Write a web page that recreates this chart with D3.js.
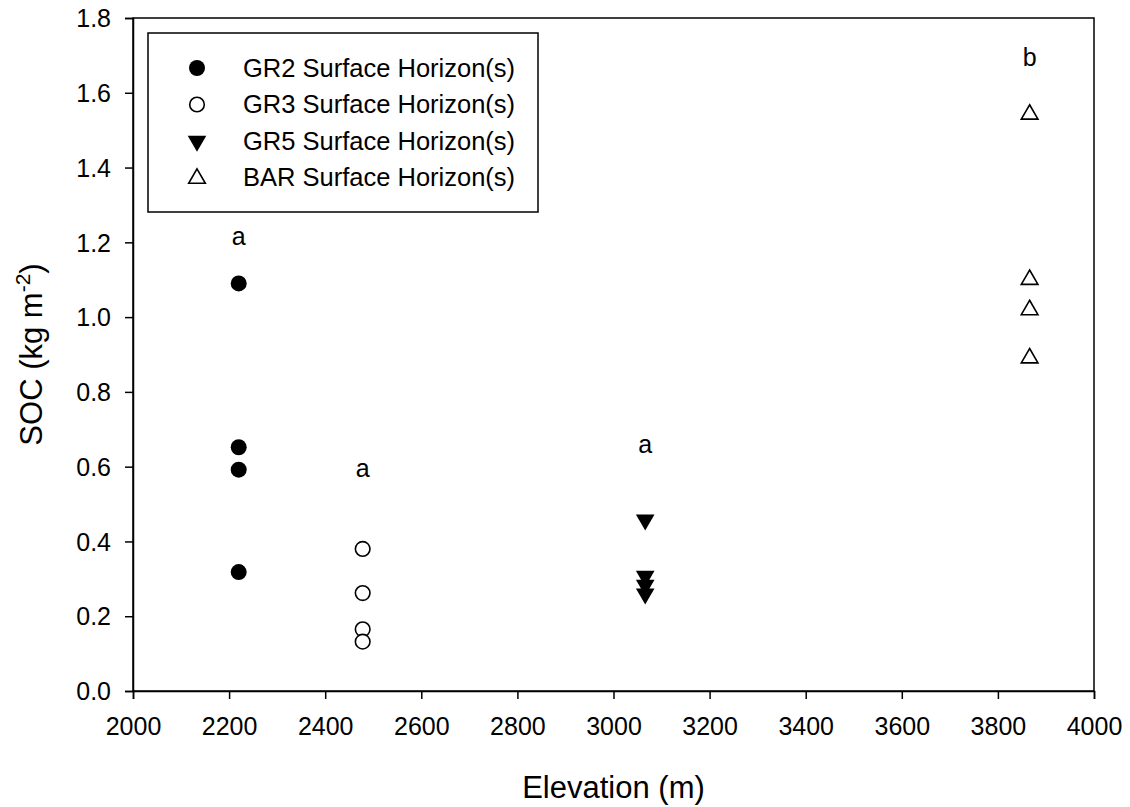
<!DOCTYPE html>
<html>
<head>
<meta charset="utf-8">
<script src="https://cdn.jsdelivr.net/npm/d3@7"></script>
<style>
  body { margin: 0; background: #fff; }
  svg text { font-family: "Liberation Sans", Arial, sans-serif; fill: #000; }
</style>
</head>
<body>
<svg id="chart" width="1130" height="807"></svg>
<script>
// data
const gr2Elev = [2220, 2220, 2220, 2220];
const gr2Soc = [1.09, 0.652, 0.592, 0.318];
const gr3Elev = [2478, 2478, 2478, 2478];
const gr3Soc = [0.38, 0.262, 0.165, 0.132];
const gr5Elev = [3066, 3066, 3066, 3066];
const gr5Soc = [0.458, 0.307, 0.283, 0.26];
const barElev = [3866, 3866, 3866, 3866];
const barSoc = [1.545, 1.103, 1.022, 0.893];

const letterElev = [2220, 2478, 3066, 3866];
const letterSoc = [1.215, 0.595, 0.66, 1.695];
const letterText = ["a", "a", "a", "b"];

const xTicks = [2000, 2200, 2400, 2600, 2800, 3000, 3200, 3400, 3600, 3800, 4000];
const yTicks = [0, 0.2, 0.4, 0.6, 0.8, 1.0, 1.2, 1.4, 1.6, 1.8];

const seriesNames = ["GR2 Surface Horizon(s)", "GR3 Surface Horizon(s)", "GR5 Surface Horizon(s)", "BAR Surface Horizon(s)"];

const svg = d3.select("#chart");
const margin = { left: 133, right: 36, top: 18, bottom: 116 };
const W = 1130, H = 807;

const x = d3.scaleLinear().domain([2000, 4000]).range([margin.left, W - margin.right]);
const y = d3.scaleLinear().domain([0, 1.8]).range([H - margin.bottom, margin.top]);

// plot frame
svg.append("rect")
  .attr("x", x(2000)).attr("y", y(1.8))
  .attr("width", x(4000) - x(2000)).attr("height", y(0) - y(1.8))
  .attr("fill", "none").attr("stroke", "#000").attr("stroke-width", 1.5);

const xAxis = svg.append("g")
  .attr("transform", `translate(0,${y(0)})`)
  .call(d3.axisBottom(x).tickValues(xTicks).tickSize(8).tickPadding(13).tickFormat(d3.format("d")));
const yAxis = svg.append("g")
  .attr("transform", `translate(${x(2000)},0)`)
  .call(d3.axisLeft(y).tickValues(yTicks).tickSize(8).tickPadding(14).tickFormat(d3.format(".1f")));

[xAxis, yAxis].forEach(a => {
  a.select(".domain").attr("stroke-width", 1.5);
  a.selectAll(".tick line").attr("stroke-width", 1.5);
  a.selectAll(".tick text").style("font-size", "25px").attr("font-family", null);
});
xAxis.selectAll(".tick text").attr("dy", "0.9em");
yAxis.selectAll(".tick text").attr("dy", "0.35em");

// axis titles
svg.append("text")
  .attr("x", (x(2000) + x(4000)) / 2).attr("y", 798)
  .attr("text-anchor", "middle").style("font-size", "31px")
  .text("Elevation (m)");

const yt = svg.append("text")
  .attr("transform", `translate(42,${(y(0) + y(1.8)) / 2}) rotate(-90)`)
  .attr("text-anchor", "middle").style("font-size", "31px");
yt.append("tspan").text("SOC (kg m");
yt.append("tspan").attr("dy", -12).style("font-size", "21px").text("-2");
yt.append("tspan").attr("dy", 12).text(")");

// marker drawers
const triDown = d3.symbol().type(d3.symbolTriangle).size(150);
const triUp = d3.symbol().type(d3.symbolTriangle).size(120);

const series = [
  { elev: gr2Elev, soc: gr2Soc, kind: "filledCircle" },
  { elev: gr3Elev, soc: gr3Soc, kind: "openCircle" },
  { elev: gr5Elev, soc: gr5Soc, kind: "filledDown" },
  { elev: barElev, soc: barSoc, kind: "openUp" }
];

function drawMarker(g, kind) {
  if (kind === "filledCircle") {
    g.append("circle").attr("r", 8).attr("fill", "#000");
  } else if (kind === "openCircle") {
    g.append("circle").attr("r", 7.3).attr("fill", "#fff").attr("stroke", "#000").attr("stroke-width", 1.6);
  } else if (kind === "filledDown") {
    g.append("path").attr("d", triDown()).attr("transform", "rotate(180)").attr("fill", "#000");
  } else {
    g.append("path").attr("d", triUp()).attr("transform", "translate(0,1)").attr("fill", "#fff").attr("stroke", "#000").attr("stroke-width", 1.6);
  }
}

series.forEach(s => {
  s.soc.forEach((v, i) => {
    const g = svg.append("g").attr("transform", `translate(${x(s.elev[i])},${y(v)})`);
    drawMarker(g, s.kind);
  });
});

// significance letters
letterText.forEach((t, i) => {
  svg.append("text")
    .attr("x", x(letterElev[i])).attr("y", y(letterSoc[i]))
    .attr("text-anchor", "middle").attr("dy", "0.35em")
    .style("font-size", "25px").text(t);
});

// legend
const legend = svg.append("g");
legend.append("rect")
  .attr("x", 148).attr("y", 33).attr("width", 390).attr("height", 179)
  .attr("fill", "#fff").attr("stroke", "#000").attr("stroke-width", 1.5);
seriesNames.forEach((name, i) => {
  const cy = 68 + i * 36.5;
  const g = legend.append("g").attr("transform", `translate(197,${cy})`);
  drawMarker(g, series[i].kind);
  legend.append("text")
    .attr("x", 243).attr("y", cy).attr("dy", "0.35em")
    .style("font-size", "25.5px").text(name);
});
</script>
</body>
</html>
